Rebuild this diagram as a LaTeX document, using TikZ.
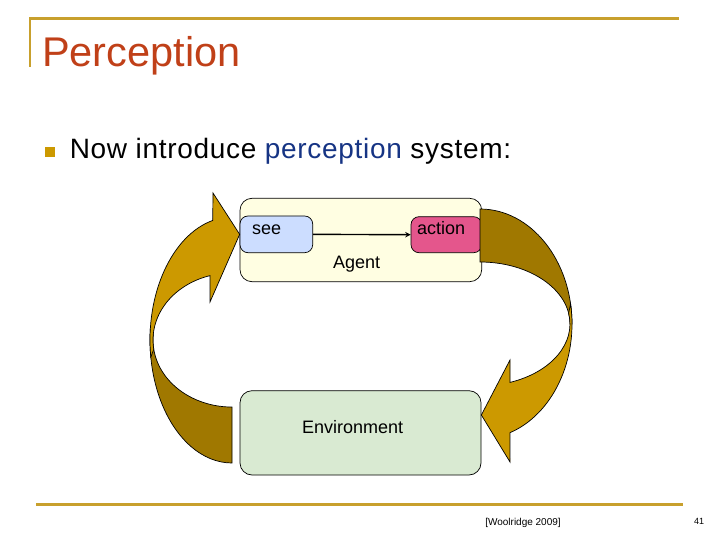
\documentclass[tikz,border=0pt]{standalone}
\usepackage{fontspec}
\setmainfont{Liberation Sans}
\newfontfamily\bulletfont[LetterSpace=2.5]{Liberation Sans}
\usepackage{tikz}

\definecolor{rulegold}{RGB}{200,160,45}
\definecolor{titlered}{RGB}{192,64,24}
\definecolor{darkblue}{RGB}{22,52,132}
\definecolor{bulletgold}{RGB}{204,153,0}
\definecolor{arrowdark}{RGB}{160,120,0}
\definecolor{arrowlight}{RGB}{204,153,0}
\definecolor{agentfill}{RGB}{255,254,226}
\definecolor{seefill}{RGB}{204,221,255}
\definecolor{actionfill}{RGB}{228,86,140}
\definecolor{envfill}{RGB}{217,234,210}

\begin{document}
\begin{tikzpicture}[x=1pt, y=-1pt,
	box/.style={draw=black, line width=0.7, inner sep=0},
	lbl/.style={inner sep=0, font=\fontsize{18}{22}\selectfont},
	band/.style={draw=black, line width=0.7}]
		\useasboundingbox (0,0) rectangle (720,540);

		% Title and rules
		\draw[rulegold, line width=2.5] (30,66.7) -- (30,18.3) -- (679,18.3);
		\draw[rulegold, line width=3] (36,504) -- (683,504);
		\node[anchor=base west, inner sep=0, text=titlered, font=\fontsize{41.5}{48}\selectfont] (title) at (42,66.7) {Perception};

		% Bullet line
		\node[fill=bulletgold, minimum size=10, inner sep=0] (bullet) at (50,151.7) {};
		\node[anchor=base west, inner sep=0, font=\bulletfont\fontsize{28}{34}\selectfont] (intro) at (69.6,158.3) {Now introduce \textcolor{darkblue}{perception} system:};

		% Boxes
		\node[box, fill=agentfill, rounded corners=12, minimum width=241.7, minimum height=83.4] (agent) at (360.85,240) {};
		\node[box, fill=seefill, rounded corners=8, minimum width=72.7, minimum height=36.7] (see) at (276.35,234.35) {};
		\node[box, fill=actionfill, rounded corners=8, minimum width=70.7, minimum height=36] (action) at (446.35,234.7) {};
		\node[box, fill=envfill, rounded corners=12, minimum width=241, minimum height=84.3] (env) at (360.5,432.85) {};

		% Text inside boxes
		\node[lbl, anchor=base west] (seetext) at (252,235) {see};
		\node[lbl, anchor=base west] (actiontext) at (417,235) {action};
		\node[lbl, anchor=base] (agenttext) at (356.7,268.3) {Agent};
		\node[lbl, anchor=base west] (envtext) at (302,433.3) {Environment};

		% see -> action
		\draw[->, >=stealth, line width=1.4] (see.east) -- (action.west);

		% Left arrow (environment up to see)
		\filldraw[band, fill=arrowdark] (232,463) arc[start angle=90, end angle=185, x radius=82, y radius=123]
			-- (153.3,334.2) arc[start angle=185, end angle=90, x radius=79, y radius=67] -- cycle;
		\filldraw[band, fill=arrowlight] (150.8,357.1) arc[start angle=172, end angle=256.4, x radius=82, y radius=123]
			-- (213,193) -- (see.west) -- (210,302) -- (210.1,275.6)
			arc[start angle=253.9, end angle=172, x radius=79, y radius=67] -- cycle;

		% Right arrow (action down to environment)
		\filldraw[band, fill=arrowdark] (480,209) arc[start angle=270, end angle=360, x radius=92, y radius=115]
			-- (570,324) arc[start angle=0, end angle=-90, x radius=90, y radius=62] -- cycle;
		\filldraw[band, fill=arrowlight] (570.6,304) arc[start angle=350, end angle=431, x radius=92, y radius=115]
			-- (510,462) -- (env.east |- 0,415) -- (510,360) -- (510,382.4)
			arc[start angle=70.5, end angle=-10, x radius=90, y radius=62] -- cycle;

		% Footer
		\node[inner sep=0, font=\fontsize{10}{12}\selectfont] (cite) at (523,522.5) {[Woolridge 2009]};
		\node[inner sep=0, font=\fontsize{9}{11}\selectfont] (pagenum) at (699,521) {41};
	\end{tikzpicture}
\end{document}
